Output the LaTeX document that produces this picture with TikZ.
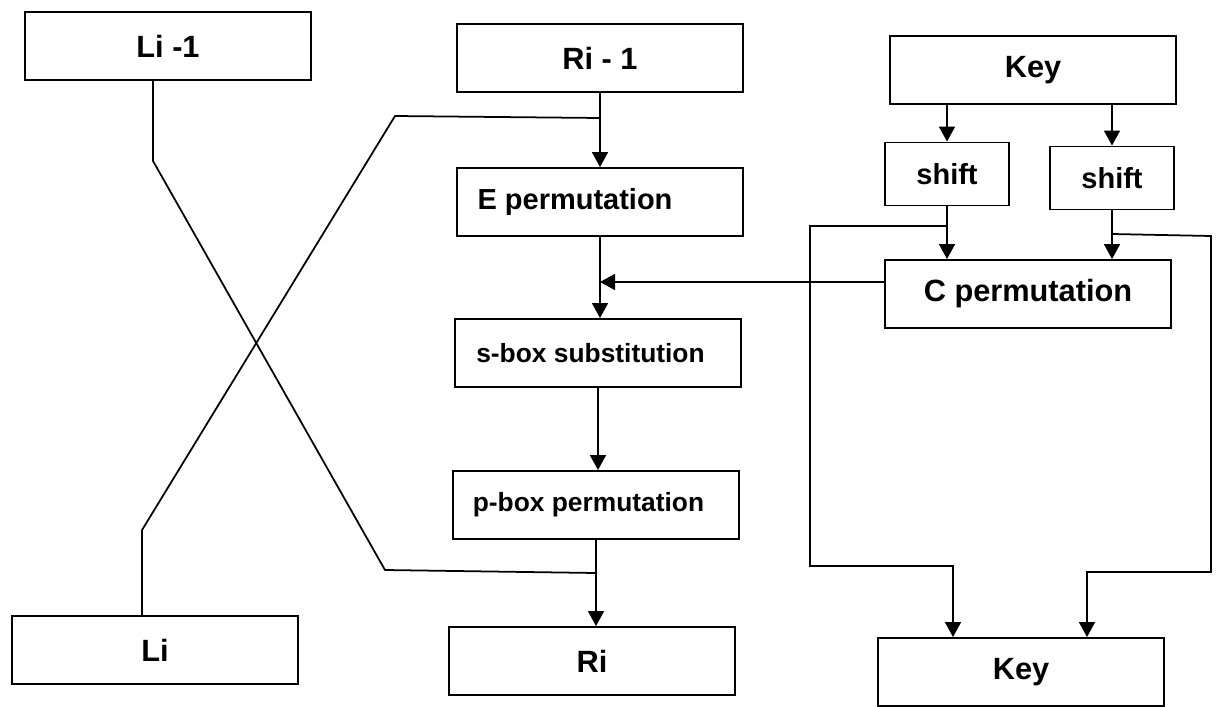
\documentclass[tikz,border=0pt]{standalone}
\usepackage{fontspec}
\setmainfont{Liberation Sans}
\usetikzlibrary{arrows.meta,calc,positioning}

\begin{document}
\begin{tikzpicture}[x=0.02cm, y=-0.02cm, >={Triangle[length=0.3cm,width=0.32cm]}, line join=miter]

% ------------------------------------------------
% Styles
% ------------------------------------------------
\tikzset{
    blk/.style={draw, line width=1.1pt, minimum width=5.72cm, minimum height=1.36cm,
        font=\fontsize{17.5}{20}\selectfont\bfseries},
    midblk/.style={blk, font=\fontsize{15}{18}\selectfont\bfseries},
    shiftblk/.style={draw, line width=1.1pt, minimum width=2.48cm, minimum height=1.26cm,
        font=\fontsize{16.5}{19}\selectfont\bfseries},
    flow/.style={->, line width=1pt},
    link/.style={line width=1pt},
}

\useasboundingbox (0,0) rectangle (1216,706);

% ------------------------------------------------
% Blocks
% ------------------------------------------------
\node[blk] (Lprev) at (168,46) {Li -1};
\node[blk] (Rprev) at (600,58) {Ri - 1};
\node[blk] (Keyin) at (1033,70) {Key};

\node[shiftblk] (shiftA) at (947,174) {shift};
\node[shiftblk] (shiftB) at (1112,178) {shift};

\node[midblk, font=\fontsize{16.5}{19}\selectfont\bfseries] (Eperm) at (600,202) {E permutation\hspace*{1cm}};
\node[blk]    (Cperm) at (1028,294) {C permutation};
\node[midblk] (Sbox) at (598,353) {s-box substitution\hspace*{0.3cm}};
\node[midblk] (Pbox) at (596,505) {p-box permutation\hspace*{0.3cm}};

\node[blk] (Lnext)  at (155,650) {Li};
\node[blk] (Rnext)  at (592,661) {Ri};
\node[blk] (Keyout) at (1021,672) {Key};

% ------------------------------------------------
% Junctions
% ------------------------------------------------
\coordinate (jE) at (Rprev.south |- 0,118);
\coordinate (jC) at (Eperm.south |- 0,282);
\coordinate (jR) at (Pbox.south |- 0,573);
\coordinate (jA) at (shiftA.south |- 0,226);
\coordinate (jB) at (shiftB.south |- 0,234);

% ------------------------------------------------
% Data path
% ------------------------------------------------
\draw[flow] (Rprev.south) -- (Rprev.south |- Eperm.north);
\draw[flow] (Eperm.south) -- (Eperm.south |- Sbox.north);
\draw[flow] (Sbox.south) -- (Sbox.south |- Pbox.north);
\draw[flow] (Pbox.south) -- (Pbox.south |- Rnext.north);
\draw[flow] (Cperm.west |- jC) -- (jC);

% crossing of the halves
\draw[link] ($(Lprev.south)+(-15,0)$) -- ++(0,80) -- (385,570) -- (jR);
\draw[link] ($(Lnext.north)+(-13,0)$) -- ++(0,-85) -- (395,116) -- (jE);

% ------------------------------------------------
% Key schedule
% ------------------------------------------------
\draw[flow] (shiftA.north |- Keyin.south) -- (shiftA.north);
\draw[flow] (shiftB.north |- Keyin.south) -- (shiftB.north);
\draw[flow] (shiftA.south) -- (shiftA.south |- Cperm.north);
\draw[flow] (shiftB.south) -- (shiftB.south |- Cperm.north);

\draw[flow] (jA) -- (810,226) -- (810,566) -- (953,566) -- (953,0 |- Keyout.north);
\draw[flow] (jB) -- (1211,236) -- (1211,572) -- (1087,572) -- (1087,0 |- Keyout.north);

\end{tikzpicture}
\end{document}
